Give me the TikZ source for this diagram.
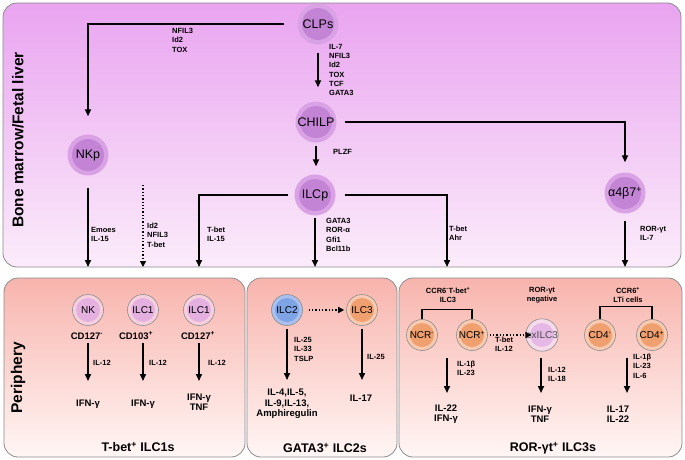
\documentclass[tikz,border=0pt]{standalone}
\usepackage{fontspec}
\setmainfont{Liberation Sans}
\usetikzlibrary{arrows.meta}
\definecolor{topA}{RGB}{233,164,240}
\definecolor{topB}{RGB}{251,236,250}
\definecolor{botA}{RGB}{248,180,173}
\definecolor{botB}{RGB}{255,246,245}
\definecolor{cellout}{RGB}{217,162,229}
\definecolor{cellin}{RGB}{196,132,214}
\definecolor{pinkin}{RGB}{228,176,224}
\definecolor{pinkring}{RGB}{247,208,222}
\definecolor{bluein}{RGB}{127,164,230}
\definecolor{bluering}{RGB}{170,192,238}
\definecolor{orangein}{RGB}{240,160,110}
\definecolor{orangering}{RGB}{248,202,178}
\definecolor{exin}{RGB}{230,184,230}
\definecolor{exring}{RGB}{246,220,234}
\tikzset{
  panel/.style={draw=black!45, line width=0.8pt, rounded corners=14pt},
  arr/.style={line width=1.6pt, -{Triangle[length=7pt,width=6pt]}},
  darr/.style={line width=1.3pt, dotted, -{Triangle[length=6pt,width=6pt]}},
  brk/.style={line width=1.2pt},
  topcell/.style={circle, fill=cellout, minimum size=41pt, inner sep=0pt,
    font=\fontsize{12.5}{14}\selectfont,
    path picture={\fill[cellin] (path picture bounding box.center) circle (16pt);}},
  botcell/.style 2 args={circle, fill=#2, draw=black!45, line width=0.6pt, minimum size=31pt, inner sep=0pt,
    font=\fontsize{10}{12}\selectfont,
    path picture={\fill[#1] (path picture bounding box.center) circle (12pt);}},
  lbl/.style={anchor=north west, align=left, inner sep=0pt, font=\fontsize{7.5}{9.3}\bfseries\selectfont},
  mid/.style={align=center, inner sep=0pt, font=\fontsize{9.5}{10.5}\bfseries\selectfont},
  hdr/.style={align=center, inner sep=0pt, font=\fontsize{7.5}{9}\bfseries\selectfont},
  ttl/.style={inner sep=0pt, font=\fontsize{12.5}{14}\bfseries\selectfont},
  side/.style={rotate=90, inner sep=0pt, font=\fontsize{15.5}{17}\bfseries\selectfont}
}
\begin{document}
\begin{tikzpicture}[x=1pt,y=-1pt]
\useasboundingbox (0,0) rectangle (685,460);
% panels
\path[panel, top color=topA, bottom color=topB] (3,3) rectangle (681,267);
\path[panel, top color=botA, bottom color=botB] (4,278) rectangle (245,457);
\path[panel, top color=botA, bottom color=botB] (247,278) rectangle (397,457);
\path[panel, top color=botA, bottom color=botB] (399,278) rectangle (682,457);
\node[side] (bm) at (18,140) {Bone marrow/Fetal liver};
\node[side] (per) at (18,378) {Periphery};
% top cells
\node[topcell] (clp) at (318,24) {CLPs};
\node[topcell] (chilp) at (316,122) {CHILP};
\node[topcell] (nkp) at (88,155) {NKp};
\node[topcell] (ilcp) at (315,195) {ILCp};
\node[topcell] (a47) at (625,193) {α4β7\textsuperscript{+}};
% free ends at panel bottom
\coordinate (e1) at (88,267);
\coordinate (d0) at (143,185);
\coordinate (e2) at (143,267);
\coordinate (e3) at (199,267);
\coordinate (e4) at (315,267);
\coordinate (e5) at (447,267);
\coordinate (e6) at (625,267);
% top arrows
\draw[arr, shorten <=13pt, shorten >=18pt] (clp.west) -| (nkp.north);
\draw[arr, shorten <=8pt, shorten >=14pt] (clp.south) -- (clp.south |- chilp.north);
\draw[arr, shorten <=3pt, shorten >=8pt] (chilp.south) -- (chilp.south |- ilcp.north);
\draw[arr, shorten <=8pt, shorten >=10pt] (chilp.east) -| (a47.north);
\draw[arr, shorten <=12pt] (nkp.south) -- (e1);
\draw[darr] (d0) -- (e2);
\draw[arr, shorten <=6pt] (ilcp.west) -| (e3);
\draw[arr, shorten <=2pt] (ilcp.south) -- (e4);
\draw[arr, shorten <=9pt] (ilcp.east) -| (e5);
\draw[arr, shorten <=7pt] (a47.south) -- (e6);
% top labels
\node[lbl] (l1) at (172,28) {NFIL3\\Id2\\TOX};
\node[lbl] (l2) at (329,44) {IL-7\\NFIL3\\Id2\\TOX\\TCF\\GATA3};
\node[lbl] (l3) at (333,149) {PLZF};
\node[lbl] (l4) at (326,218) {GATA3\\ROR-α\\Gfi1\\Bcl11b};
\node[lbl] (l5) at (449,226) {T-bet\\Ahr};
\node[lbl] (l6) at (640,226) {ROR-γt\\IL-7};
\node[lbl] (l7) at (91,227) {Emoes\\IL-15};
\node[lbl] (l8) at (147,223) {Id2\\NFIL3\\T-bet};
\node[lbl] (l9) at (207,227) {T-bet\\IL-15};
% ---- ILC1 panel
\node[botcell={pinkin}{pinkring}] (nk) at (88,310) {NK};
\node[botcell={pinkin}{pinkring}] (ilc1a) at (143,310) {ILC1};
\node[botcell={pinkin}{pinkring}] (ilc1b) at (199,310) {ILC1};
\node[mid] (cd1) at (87,336) {CD127\textsuperscript{-}};
\node[mid] (cd2) at (136,336) {CD103\textsuperscript{+}};
\node[mid] (cd3) at (198,336) {CD127\textsuperscript{+}};
\node[mid] (o1) at (88,404) {IFN-γ};
\node[mid] (o2) at (143,404) {IFN-γ};
\node[mid] (o3) at (199,402) {IFN-γ\\TNF};
\draw[arr] (88,343) -- (88,381);
\draw[arr] (143,343) -- (143,381);
\draw[arr] (199,343) -- (199,381);
\node[lbl, anchor=west] (i1) at (93,363) {IL-12};
\node[lbl, anchor=west] (i2) at (149,363) {IL-12};
\node[lbl, anchor=west] (i3) at (208,363) {IL-12};
\node[ttl] (t1) at (138,447) {T-bet\textsuperscript{+} ILC1s};
% ---- ILC2 panel
\node[botcell={bluein}{bluering}] (ilc2) at (287,310) {ILC2};
\node[botcell={orangein}{orangering}] (ilc3) at (362,310) {ILC3};
\draw[darr, shorten <=6pt, shorten >=2pt] (ilc2.east) -- (ilc3.west);
\draw[arr, shorten <=3pt] (ilc2.south) -- (287,380);
\draw[arr, shorten <=3pt] (ilc3.south) -- (362,380);
\node[lbl] (m1) at (294,337) {IL-25\\IL-33\\TSLP};
\node[lbl, anchor=west] (m2) at (367,357) {IL-25};
\node[mid] (m3) at (287,404) {IL-4,IL-5,\\IL-9,IL-13,\\Amphiregulin};
\node[mid] (m4) at (361,398) {IL-17};
\node[ttl] (t2) at (325,448) {GATA3\textsuperscript{+} ILC2s};
% ---- ILC3 panel
\node[hdr] (h1) at (448,295) {CCR6\textsuperscript{-}T-bet\textsuperscript{+}\\ILC3};
\node[hdr] (h2) at (542,295) {ROR-γt\\negative};
\node[hdr] (h3) at (628,295) {CCR6\textsuperscript{+}\\LTi cells};
\node[botcell={orangein}{orangering}] (ncrm) at (422,335) {NCR\textsuperscript{-}};
\node[botcell={orangein}{orangering}] (ncrp) at (472,335) {NCR\textsuperscript{+}};
\node[botcell={exin}{exring}, text=black!70] (ex) at (542,335) {exILC3};
\node[botcell={orangein}{orangering}] (cd4m) at (600,335) {CD4\textsuperscript{-}};
\node[botcell={orangein}{orangering}] (cd4p) at (652,335) {CD4\textsuperscript{+}};
\draw[brk] (ncrm.north) -- ++(0,-10) -| (ncrp.north);
\draw[brk] (cd4m.north) -- ++(0,-13) -| (cd4p.north);
\draw[darr, shorten <=2pt, shorten >=-6pt] (ncrp.east) -- (ex.west);
\node[lbl] (r0) at (495,337) {T-bet\\IL-12};
\coordinate (s1) at (447,358);
\coordinate (s2) at (541,358);
\coordinate (s3) at (627,358);
\draw[arr] (s1) -- (447,393);
\draw[arr] (s2) -- (541,393);
\draw[arr] (s3) -- (627,393);
\node[lbl] (r1) at (457,361) {IL-1β\\IL-23};
\node[lbl] (r2) at (548,367) {IL-12\\IL-18};
\node[lbl] (r3) at (633,354) {IL-1β\\IL-23\\IL-6};
\node[mid] (q1) at (446,414) {IL-22\\IFN-γ};
\node[mid] (q2) at (540,414) {IFN-γ\\TNF};
\node[mid] (q3) at (618,414) {IL-17\\IL-22};
\node[ttl] (t3) at (553,448) {ROR-γt\textsuperscript{+} ILC3s};
\end{tikzpicture}
\end{document}
